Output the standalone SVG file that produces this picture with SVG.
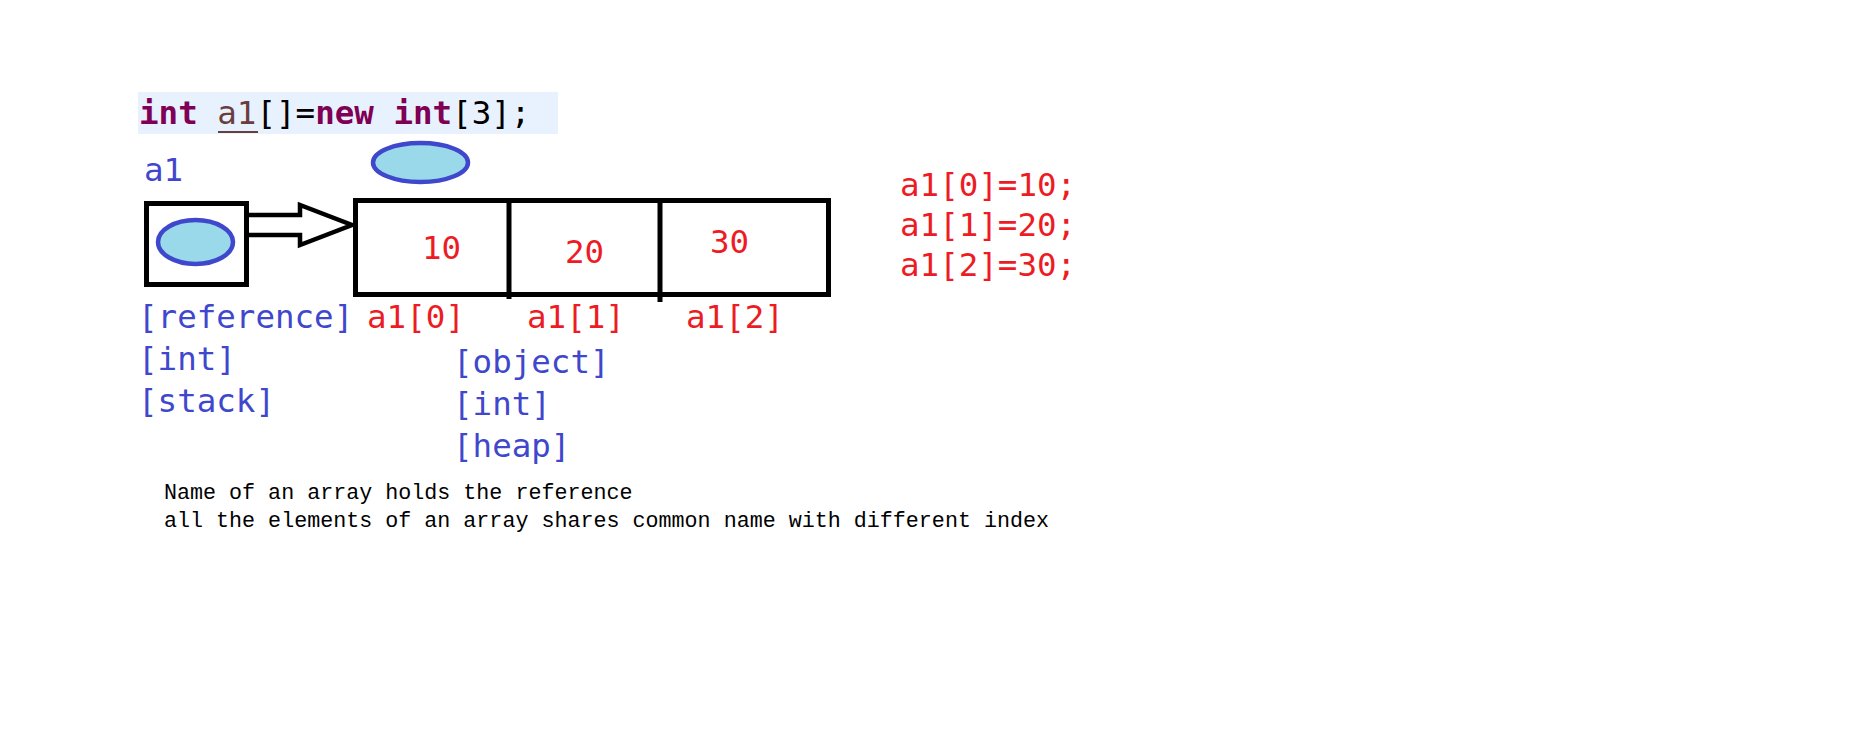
<svg xmlns="http://www.w3.org/2000/svg" width="1852" height="743" viewBox="0 0 1852 743">
<style>
text{font-family:"DejaVu Sans Mono","Liberation Mono",monospace;font-size:32.5px}
.blue{fill:#3f48cc}
.red{fill:#ed1c24}
.kw{fill:#7f0055;font-weight:bold}
.blk{fill:#000}
.var{fill:#6a3e3e}
.note{font-family:"Liberation Mono","DejaVu Sans Mono",monospace;font-size:21.7px;fill:#000}
.oval{fill:#99d9ea;stroke:#3f48cc;stroke-width:4.5}
.box{fill:none;stroke:#000;stroke-width:5}
</style>
<rect width="1852" height="743" fill="#fff"/>
<g id="code">
<rect x="138" y="92" width="420" height="42" fill="#e8f2fe"/>
<text x="139" y="124"><tspan class="kw">int</tspan><tspan class="blk"> </tspan><tspan class="var">a1</tspan><tspan class="blk">[]=</tspan><tspan class="kw">new</tspan><tspan class="blk"> </tspan><tspan class="kw">int</tspan><tspan class="blk">[3];</tspan></text>
<line x1="218" y1="132" x2="258" y2="132" stroke="#6a3e3e" stroke-width="2"/>
</g>
<g id="connectors">
<path d="M249 215 H300 V205 L352 225 L300 245 V235 H249" fill="#fff" stroke="#000" stroke-width="4.5" stroke-linejoin="miter"/>
</g>
<g id="ref-node">
<text class="blue" x="144" y="181">a1</text>
<rect class="box" x="146.5" y="203.5" width="100" height="81" fill="#fff"/>
<ellipse class="oval" cx="195.5" cy="242" rx="37.5" ry="22"/>
<text class="blue" x="138" y="328">[reference]</text>
<text class="blue" x="138" y="370">[int]</text>
<text class="blue" x="138" y="412">[stack]</text>
</g>
<g id="array-node">
<ellipse class="oval" cx="420.5" cy="162.5" rx="47.5" ry="19.5"/>
<rect class="box" x="355.5" y="200.5" width="473" height="94" fill="#fff"/>
<line x1="509" y1="200" x2="509" y2="299" stroke="#000" stroke-width="5"/>
<line x1="660" y1="200" x2="660" y2="302" stroke="#000" stroke-width="5"/>
<text class="red" x="422" y="259">10</text>
<text class="red" x="565" y="263">20</text>
<text class="red" x="710" y="253">30</text>
<text class="red" x="367" y="328">a1[0]</text>
<text class="red" x="527" y="328">a1[1]</text>
<text class="red" x="686" y="328">a1[2]</text>
<text class="blue" x="453" y="373">[object]</text>
<text class="blue" x="453" y="415">[int]</text>
<text class="blue" x="453" y="457">[heap]</text>
</g>
<g id="assignments">
<text class="red" x="900" y="196">a1[0]=10;</text>
<text class="red" x="900" y="236">a1[1]=20;</text>
<text class="red" x="900" y="276">a1[2]=30;</text>
</g>
<g id="notes">
<text class="note" x="164" y="499">Name of an array holds the reference</text>
<text class="note" x="164" y="527">all the elements of an array shares common name with different index</text>
</g>
</svg>
